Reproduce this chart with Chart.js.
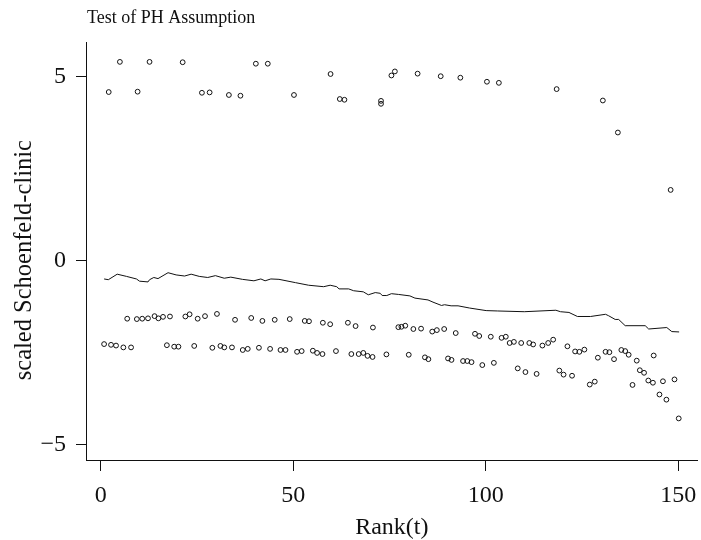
<!DOCTYPE html>
<html>
<head>
<meta charset="utf-8">
<title>Test of PH Assumption</title>
<script src="https://cdn.jsdelivr.net/npm/chart.js@4.4.1/dist/chart.umd.min.js"></script>
<style>
    body { margin: 0; background: #fff; }
    #grafico { display: block; }
</style>
</head>
<body>
<canvas id="grafico" width="701" height="540"></canvas>
<script>
// residuals near +5
const topRank = [2.1, 5.0, 9.6, 12.7, 21.3, 26.3, 28.3, 33.3, 36.3, 40.3, 43.4, 50.2, 59.7, 62.1, 63.3, 72.8, 72.8, 75.5, 76.4, 82.3, 88.3, 93.4, 100.3, 103.4, 118.4, 130.4, 134.3, 148.0];
const topResid = [4.58, 5.40, 4.59, 5.40, 5.39, 4.56, 4.57, 4.50, 4.48, 5.35, 5.35, 4.50, 5.07, 4.39, 4.37, 4.34, 4.26, 5.03, 5.14, 5.08, 5.01, 4.97, 4.86, 4.83, 4.66, 4.35, 3.48, 1.92];

// upper of the two lower bands
const midRank = [6.9, 9.4, 10.8, 12.3, 14.0, 15.0, 16.2, 18.0, 22.0, 23.1, 25.2, 27.1, 30.2, 34.9, 39.1, 42.0, 45.2, 49.1, 53.0, 54.1, 57.7, 59.6, 64.2, 66.2, 70.7, 77.3, 78.1, 79.1, 81.2, 83.2, 86.1, 87.3, 89.2, 92.2, 97.2, 98.3, 101.3, 104.1, 105.2, 106.2, 107.3, 109.2, 111.3, 112.3, 114.7, 116.2, 117.5, 121.2, 123.2, 124.3, 125.6, 129.1, 131.1, 132.1, 133.3, 135.2, 136.2, 137.1, 139.2, 140.0, 141.1, 142.2, 143.4, 143.6, 145.1, 146.0, 146.9, 149.0, 150.1];
const midResid = [-1.58, -1.59, -1.58, -1.57, -1.51, -1.57, -1.53, -1.52, -1.52, -1.46, -1.58, -1.51, -1.45, -1.61, -1.56, -1.64, -1.61, -1.59, -1.64, -1.65, -1.69, -1.73, -1.69, -1.78, -1.82, -1.81, -1.80, -1.77, -1.86, -1.85, -1.93, -1.89, -1.86, -1.97, -1.99, -2.05, -2.07, -2.10, -2.07, -2.24, -2.21, -2.24, -2.24, -2.28, -2.31, -2.24, -2.15, -2.33, -2.47, -2.48, -2.42, -2.64, -2.48, -2.49, -2.68, -2.43, -2.46, -2.56, -2.72, -2.98, -3.05, -3.26, -3.32, -2.58, -3.64, -3.28, -3.78, -3.23, -4.29];

// lowest band
const lowRank = [0.9, 2.7, 4.0, 5.9, 7.9, 17.2, 19.1, 20.2, 24.3, 29.0, 31.1, 32.1, 34.1, 36.9, 38.2, 41.1, 44.0, 46.7, 48.0, 51.0, 52.2, 55.1, 56.2, 57.6, 61.1, 65.1, 67.0, 68.2, 69.3, 70.6, 74.2, 80.0, 84.2, 85.1, 90.2, 91.1, 94.1, 95.2, 96.3, 99.1, 102.1, 108.3, 110.3, 113.2, 119.1, 120.2, 122.4, 127.0, 128.3, 138.1];
const lowResid = [-2.27, -2.29, -2.31, -2.36, -2.36, -2.30, -2.34, -2.34, -2.32, -2.37, -2.32, -2.36, -2.36, -2.43, -2.40, -2.37, -2.40, -2.43, -2.43, -2.48, -2.46, -2.45, -2.51, -2.54, -2.46, -2.54, -2.54, -2.51, -2.59, -2.62, -2.55, -2.56, -2.63, -2.68, -2.66, -2.70, -2.73, -2.73, -2.76, -2.84, -2.78, -2.93, -3.03, -3.08, -2.99, -3.10, -3.13, -3.37, -3.29, -3.38];

// smoothed curve
const smoothRank = [0.9, 2.0, 4.3, 6.7, 9.3, 10.1, 12.3, 12.7, 13.8, 14.9, 17.5, 19.6, 21.8, 23.5, 25.6, 27.8, 29.8, 32.1, 33.8, 36.8, 39.8, 41.6, 42.7, 44.2, 46.3, 50.6, 54.0, 57.9, 59.6, 61.3, 61.9, 64.4, 65.7, 68.2, 69.5, 71.3, 72.6, 73.1, 74.3, 75.5, 77.3, 80.3, 81.6, 85.0, 86.3, 88.5, 89.3, 91.0, 92.8, 95.8, 100.1, 103.1, 110.0, 118.2, 119.4, 121.6, 123.8, 127.2, 131.1, 131.9, 133.6, 134.5, 136.2, 141.4, 142.3, 147.0, 148.3, 150.2];
const smoothValue = [-0.50, -0.52, -0.37, -0.43, -0.50, -0.56, -0.58, -0.52, -0.46, -0.49, -0.33, -0.39, -0.42, -0.37, -0.43, -0.46, -0.41, -0.48, -0.45, -0.51, -0.55, -0.50, -0.55, -0.50, -0.51, -0.60, -0.67, -0.71, -0.67, -0.71, -0.77, -0.77, -0.82, -0.85, -0.93, -0.87, -0.89, -0.95, -0.95, -0.90, -0.92, -0.96, -1.02, -1.07, -1.13, -1.22, -1.20, -1.23, -1.23, -1.29, -1.36, -1.37, -1.39, -1.35, -1.39, -1.41, -1.52, -1.52, -1.46, -1.50, -1.60, -1.60, -1.77, -1.77, -1.86, -1.82, -1.93, -1.94];

const xTicks = [0, 50, 100, 150];
const yTicks = [-5, 0, 5];

const chartTitle = 'Test of PH Assumption';
const xLabel = 'Rank(t)';
const yLabel = 'scaled Schoenfeld-clinic';

document.addEventListener('DOMContentLoaded', () => {
    const ctx = document.getElementById('grafico').getContext('2d');
    const serif = '"Liberation Serif", "DejaVu Serif", serif';

    const pares = (xs, ys) => xs.map((x, i) => ({ x: x, y: ys[i] }));
    const pontos = pares(topRank, topResid)
        .concat(pares(midRank, midResid))
        .concat(pares(lowRank, lowResid));

    // title sits at the left edge of the plot region, like R's main title
    const tituloPlugin = {
        id: 'tituloEsquerda',
        afterDraw(chart) {
            const c = chart.ctx;
            c.save();
            c.font = '18px ' + serif;
            c.fillStyle = '#111';
            c.textAlign = 'left';
            c.textBaseline = 'middle';
            c.fillText(chartTitle, chart.chartArea.left + 1, 18);
            c.restore();
        }
    };

    new Chart(ctx, {
        type: 'scatter',
        data: {
            datasets: [{
                label: 'residuals',
                data: pontos,
                pointRadius: 2.4,
                pointHoverRadius: 2.4,
                pointBorderWidth: 1,
                pointBackgroundColor: 'rgba(0,0,0,0)',
                pointBorderColor: '#111',
            }, {
                label: 'smooth',
                data: pares(smoothRank, smoothValue),
                showLine: true,
                pointRadius: 0,
                borderColor: '#111',
                borderWidth: 1,
                tension: 0,
            }]
        },
        options: {
            responsive: false,
            animation: false,
            layout: { padding: { left: 0, right: 0, top: 42, bottom: 0 } },
            plugins: {
                legend: { display: false },
                tooltip: { enabled: false },
            },
            scales: {
                x: {
                    type: 'linear',
                    min: -3.8,
                    max: 155,
                    afterBuildTicks: scale => { scale.ticks = xTicks.map(v => ({ value: v })); },
                    afterFit: scale => {
                        scale.height = 80;
                        scale.paddingLeft = 0;
                        scale.paddingRight = 0;
                    },
                    border: { display: true, color: '#111', width: 1 },
                    grid: { drawOnChartArea: false, drawTicks: true, tickLength: 11, color: '#111' },
                    ticks: { color: '#111', padding: 10, maxRotation: 0, font: { family: serif, size: 24 } },
                    title: {
                        display: true,
                        text: xLabel,
                        color: '#111',
                        padding: { top: 0, bottom: -2 },
                        font: { family: serif, size: 24 },
                    }
                },
                y: {
                    type: 'linear',
                    min: -5.42,
                    max: 5.94,
                    afterBuildTicks: scale => { scale.ticks = yTicks.map(v => ({ value: v })); },
                    afterFit: scale => { scale.width = 86; },
                    border: { display: true, color: '#111', width: 1 },
                    grid: { drawOnChartArea: false, drawTicks: true, tickLength: 10, color: '#111' },
                    ticks: {
                        color: '#111',
                        padding: 10,
                        font: { family: serif, size: 24 },
                        callback: v => v < 0 ? '\u2212' + Math.abs(v) : String(v),
                    },
                    title: {
                        display: true,
                        // trailing no-break spaces nudge the label a little lower
                        text: yLabel + '\u00a0\u00a0\u00a0',
                        color: '#111',
                        padding: { top: 10, bottom: 0 },
                        font: { family: serif, size: 24.5 },
                    }
                }
            }
        },
        plugins: [tituloPlugin]
    });
});
</script>
</body>
</html>
